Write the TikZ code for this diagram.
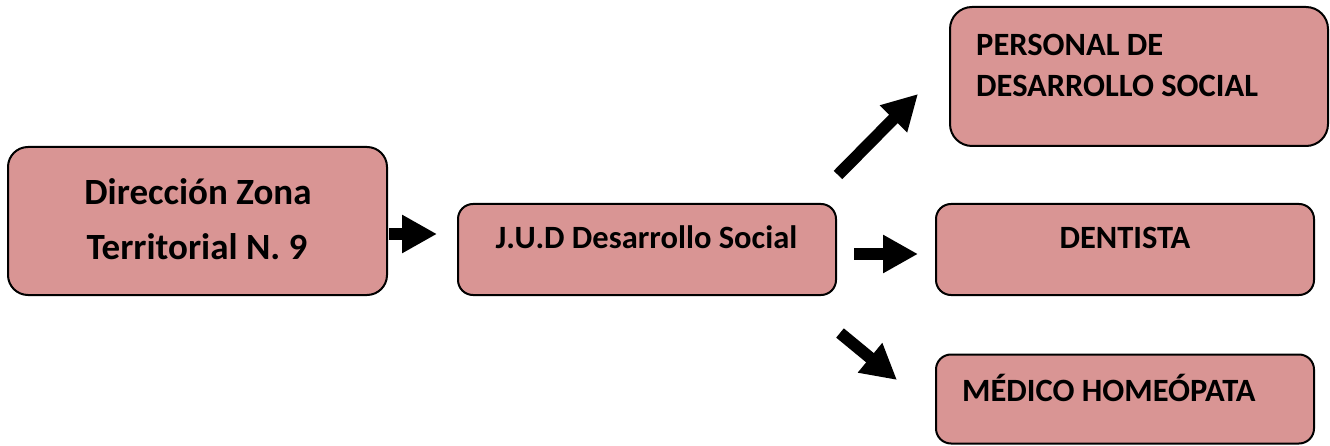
\documentclass[tikz,border=0pt]{standalone}
\usepackage{fontspec}
\setmainfont{Carlito}
\usetikzlibrary{arrows.meta,calc}
\definecolor{boxfill}{HTML}{D99594}
\tikzset{
  orgbox/.style={draw=black, line width=2pt, fill=boxfill, rounded corners=15pt, inner sep=0pt},
  lbl/.style={inner sep=0pt, font=\bfseries\fontsize{32.5}{38}\selectfont},
  biglbl/.style={inner sep=0pt, font=\bfseries\fontsize{37}{44}\selectfont},
  bigarrow/.style={line width=12pt, -{Triangle[length=35pt,width=36pt]}},
}
\begin{document}
\begin{tikzpicture}[x=1pt,y=-1pt]
\useasboundingbox (0,0) rectangle (1330,446);
% boxes
\node[orgbox, rounded corners=20pt, minimum width=379pt, minimum height=148pt] (A) at (197.5,221) {};
\node[orgbox, minimum width=378pt, minimum height=91pt] (B) at (647,249.5) {};
\node[orgbox, rounded corners=22pt, minimum width=378pt, minimum height=139pt] (C) at (1139,76.5) {};
\node[orgbox, minimum width=378pt, minimum height=91pt] (D) at (1125,249.5) {};
\node[orgbox, minimum width=378pt, minimum height=89pt] (E) at (1125,399) {};
% texts
\node[biglbl, anchor=base] (A1) at (198,205) {Dirección Zona};
\node[biglbl, anchor=base] (A2) at (197,260) {Territorial N. 9};
\node[lbl, anchor=base] (Bt) at (646.5,248.5) {J.U.D Desarrollo Social};
\node[lbl, anchor=base west] (C1) at (976,55.5) {PERSONAL DE};
\node[lbl, anchor=base west] (C2) at (976,97) {DESARROLLO SOCIAL};
\node[lbl, anchor=base] (Dt) at (1125,248.5) {DENTISTA};
\node[lbl, anchor=base west] (Et) at (962,401.5) {MÉDICO HOMEÓPATA};
% arrows
\draw[bigarrow] ($(A.east)+(1,13)$) -- ($(B.west)+(-20,-15.5)$);
\draw[bigarrow] ($(B.east)+(17,4.5)$) -- ($(D.west)+(-17,4.5)$);
\draw[bigarrow] ($(B.east)+(1,-74.5)$) -- ($(C.south west)+(-31,-53)$);
\draw[bigarrow] ($(B.east)+(3,83.5)$) -- ($(E.west)+(-38,-19)$);
\end{tikzpicture}
\end{document}
